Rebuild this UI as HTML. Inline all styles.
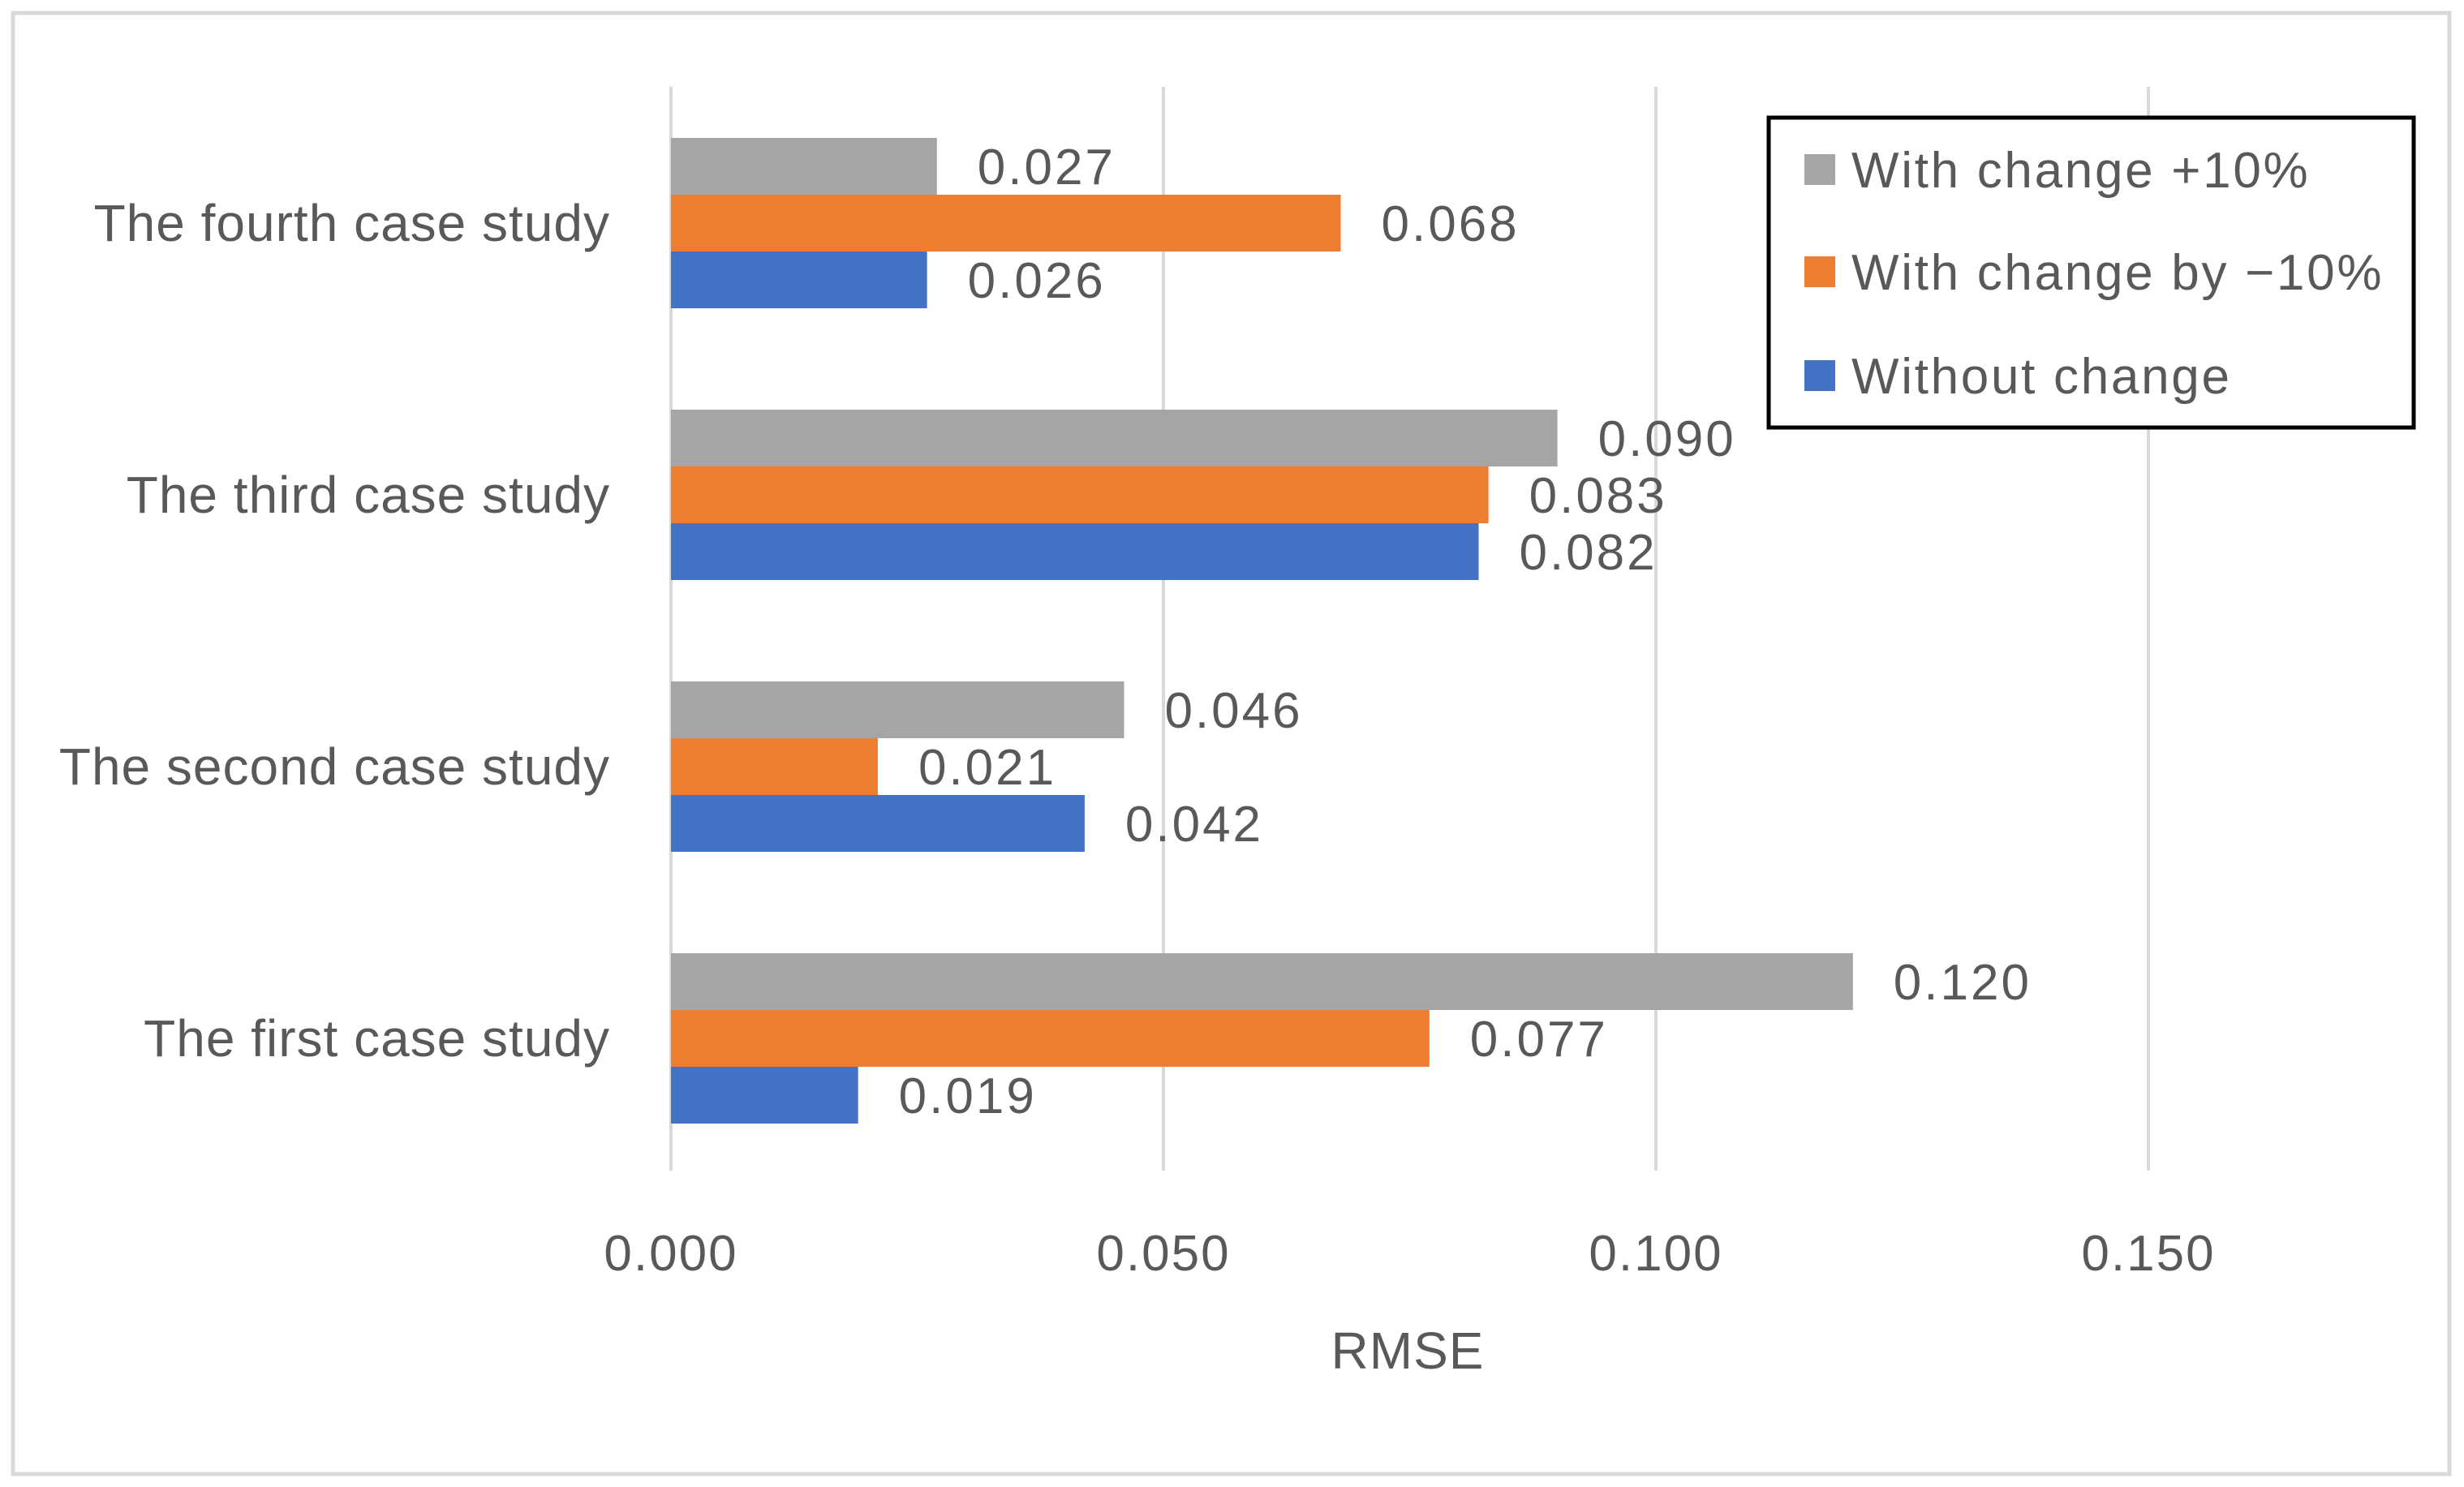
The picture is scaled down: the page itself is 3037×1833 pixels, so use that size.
<!DOCTYPE html>
<html><head><meta charset="utf-8"><style>
html,body{margin:0;padding:0;background:#fff}
svg{display:block}
text{font-family:"Liberation Sans","DejaVu Sans",sans-serif;fill:#595959}
.val{letter-spacing:3px}
.leg{letter-spacing:2.7px}
.cat{letter-spacing:1px}
.tick{letter-spacing:2px}
</style></head><body>
<svg id="chart" width="3037" height="1833" viewBox="0 0 3037 1833" xmlns="http://www.w3.org/2000/svg">
<rect x="16" y="16" width="3003" height="1801" fill="#fff" stroke="#D9D9D9" stroke-width="5"/>
<g id="grid"></g>
<g id="bars"></g>
<g id="labels"></g>
<text x="1735" y="1687" font-size="64" text-anchor="middle" class="cat">RMSE</text>
<g>
<rect x="2180" y="145" width="795" height="382" fill="#fff" stroke="#000" stroke-width="5"/>
<rect x="2224" y="190" width="38" height="38" fill="#A5A5A5"/>
<text x="2282" y="231" font-size="62" class="leg">With change +10%</text>
<rect x="2224" y="316" width="38" height="38" fill="#ED7D31"/>
<text x="2282" y="357" font-size="62" class="leg">With change by −10%</text>
<rect x="2224" y="444" width="38" height="38" fill="#4472C4"/>
<text x="2282" y="485" font-size="62" class="leg">Without change</text>
</g>
</svg>
<script>
const categories = ["The fourth case study","The third case study","The second case study","The first case study"];
const plusTen = [0.027,0.090,0.046,0.120];
const minusTen = [0.068,0.083,0.021,0.077];
const without = [0.026,0.082,0.042,0.019];
const ticks = [0,0.05,0.1,0.15];
const tickLabels = ["0.000","0.050","0.100","0.150"];

const NS="http://www.w3.org/2000/svg";
const x0=827, pxPer=607/0.05;
function xs(v){return x0+v*pxPer;}
const catTop=107, catStep=335, barH=70;
function yc(i){return catTop+168+i*catStep;}
function mk(tag,attrs,parent){const e=document.createElementNS(NS,tag);for(const k in attrs)e.setAttribute(k,attrs[k]);parent.appendChild(e);return e;}
const grid=document.getElementById('grid'), bars=document.getElementById('bars'), labels=document.getElementById('labels');
ticks.forEach((t,i)=>{
  const l=mk('line',{x1:xs(t),x2:xs(t),y1:107,y2:1443,stroke:'#D9D9D9','stroke-width':4},grid);
  
  
  const tx=mk('text',{x:xs(t),y:1566,'font-size':62,'text-anchor':'middle','class':'tick'},labels);
  tx.textContent=tickLabels[i];
  
  
});
const series=[[plusTen,'#A5A5A5','plus10'],[minusTen,'#ED7D31','minus10'],[without,'#4472C4','without']];
categories.forEach((c,i)=>{
  const t=mk('text',{x:752,y:yc(i)+22,'font-size':64,'text-anchor':'end','class':'cat'},labels);
  t.textContent=c;
  
  
  series.forEach((s,j)=>{
    const v=s[0][i];
    const top=yc(i)-1.5*barH+j*barH;
    const r=mk('rect',{x:x0,y:top,width:xs(v)-x0,height:barH,fill:s[1]},bars);
    
    
    const vt=mk('text',{x:xs(v)+50,y:top+barH/2+22,'font-size':62,'class':'val'},labels);
    vt.textContent=v.toFixed(3);
    
    
  });
});
</script>
</body></html>
